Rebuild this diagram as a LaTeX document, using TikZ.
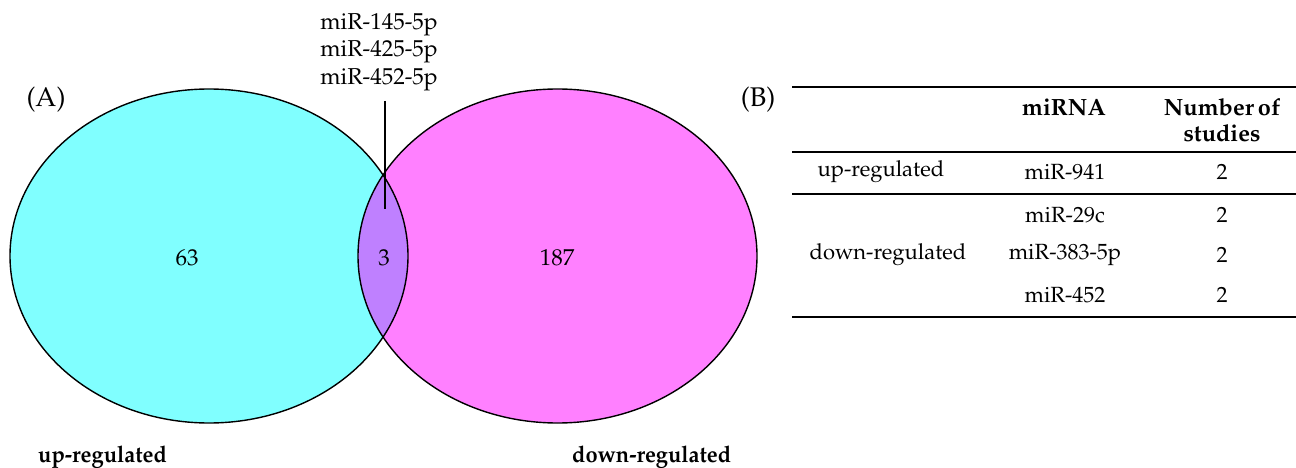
\documentclass[tikz,border=0pt]{standalone}
\usepackage[T1]{fontenc}
\usepackage{mathpazo}
\usepackage{graphicx}
\definecolor{upc}{HTML}{80FFFF}
\definecolor{downc}{HTML}{FF80FF}
\definecolor{bothc}{HTML}{BF80FF}
\begin{document}
\begin{tikzpicture}[x=1pt,y=-1pt,
  venntxt/.style={font=\fontsize{23}{27}\selectfont, inner sep=0pt, anchor=center},
  paneltxt/.style={font=\fontsize{27}{31}\selectfont, inner sep=0pt, anchor=center},
  tabtxt/.style={font=\fontsize{22}{26}\selectfont, inner sep=0pt, anchor=center},
  tabhead/.style={font=\fontsize{23.5}{26}\selectfont\bfseries, inner sep=0pt, anchor=center, align=center},
  setlbl/.style={font=\fontsize{23}{27}\selectfont\bfseries, inner sep=0pt, anchor=base west},
  outline/.style={line width=1.4pt, draw=black},
  toprule/.style={line width=2pt},
  midrule/.style={line width=1.5pt}]
\useasboundingbox (0,0) rectangle (1296,468);
% Venn diagram
\fill[upc] (209,256) ellipse [x radius=199, y radius=167];
\fill[downc] (557.5,256) ellipse [x radius=199.5, y radius=167];
\begin{scope}
  \clip (209,256) ellipse [x radius=199, y radius=167];
  \fill[bothc] (557.5,256) ellipse [x radius=199.5, y radius=167];
\end{scope}
\draw[outline] (209,256) ellipse [x radius=199, y radius=167];
\draw[outline] (557.5,256) ellipse [x radius=199.5, y radius=167];
\node[venntxt] (n63) at (187,258) {63};
\node[venntxt] (n3) at (384,258) {3};
\node[venntxt] (n187) at (557,258) {187};
\node[venntxt, align=center, font=\fontsize{23}{27.5}\selectfont] (common) at (379,52) {miR-145-5p\\miR-425-5p\\miR-452-5p};
\coordinate (ltop) at (385,101);
\coordinate (lbot) at (385,209);
\draw[line width=1.2pt] (ltop) -- (lbot);
\node[paneltxt] (lA) at (46,100) {(A)};
\node[setlbl] (lup) at (38,462) {\scalebox{0.95}[1]{up-regulated}};
\node[setlbl] (ldown) at (572,462) {\scalebox{0.95}[1]{down-regulated}};
% Table
\node[paneltxt] (lB) at (758,100) {(B)};
\draw[toprule] (792,87) -- (1296,87);
\draw[midrule] (792,152) -- (1296,152);
\draw[midrule] (792,194) -- (1296,194);
\draw[toprule] (792,317) -- (1296,317);
\node[tabhead] (hmi) at (1064,107) {miRNA};
\node[tabhead] (hnum) at (1222,120) {Number\kern4pt of\\studies};
\node[tabtxt] (rup) at (881,172) {up-regulated};
\node[tabtxt] (m941) at (1065,172) {miR-941};
\node[tabtxt] (c941) at (1222,172) {2};
\node[tabtxt] (rdown) at (888,255) {down-regulated};
\node[tabtxt] (m29) at (1065,215) {miR-29c};
\node[tabtxt] (c29) at (1222,215) {2};
\node[tabtxt] (m383) at (1065,255) {miR-383-5p};
\node[tabtxt] (c383) at (1222,255) {2};
\node[tabtxt] (m452) at (1065,295) {miR-452};
\node[tabtxt] (c452) at (1222,295) {2};
\end{tikzpicture}
\end{document}
